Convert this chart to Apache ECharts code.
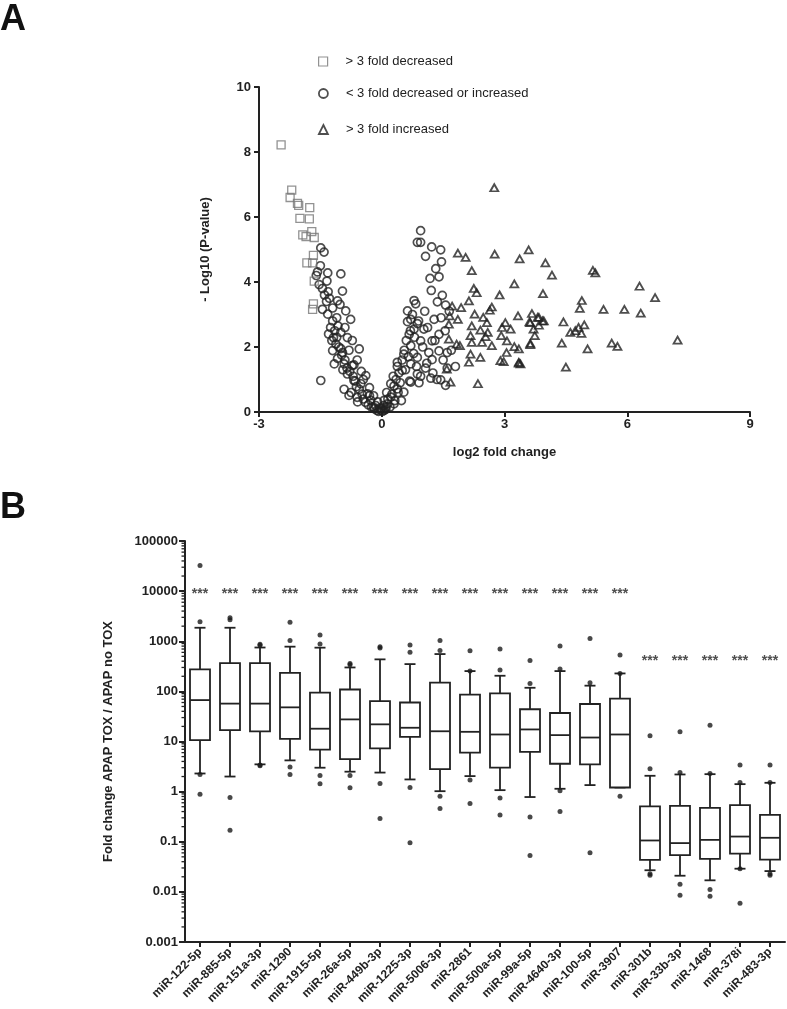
<!DOCTYPE html>
<html><head><meta charset="utf-8">
<script src="https://cdn.jsdelivr.net/npm/echarts@6/dist/echarts.min.js"></script>
<style>html,body{margin:0;padding:0;background:#fff}#c{width:787px;height:1009px}</style>
</head><body><div id="c"></div>
<script>
// ---------- Panel A data (log2 fold change, -log10 p) ----------
const decreased = [[-2.46,8.22],[-2.2,6.83],[-2.24,6.6],[-2.06,6.42],[-2.03,6.36],[-1.76,6.29],[-2.0,5.96],[-1.77,5.94],[-1.93,5.45],[-1.85,5.4],[-1.71,5.55],[-1.65,5.37],[-1.67,4.82],[-1.83,4.59],[-1.69,4.59],[-1.65,4.03],[-1.67,3.33],[-1.69,3.16]];
const unchanged = [[-1.49,5.05],[-1.41,4.92],[-1.57,4.31],[-1.32,4.28],[-1.0,4.25],[-1.53,3.92],[-1.34,4.03],[-1.31,3.7],[-0.96,3.72],[-1.08,3.42],[-1.02,3.31],[-1.45,3.16],[-1.32,3.01],[-0.88,3.11],[-0.76,2.85],[-1.2,2.8],[-1.07,2.65],[-1.0,2.45],[-1.18,2.29],[-1.12,2.09],[-0.84,2.29],[-1.2,1.89],[-0.96,1.83],[-0.55,1.94],[-1.16,1.48],[-1.49,0.97],[-0.92,1.48],[-0.72,1.43],[-0.84,1.17],[-0.39,1.12],[-0.68,0.97],[-0.51,0.87],[-0.8,0.51],[-0.59,0.31],[-0.35,0.56],[-0.27,0.36],[-0.15,0.2],[-0.02,0.1],[0.06,0.05],[0.14,0.25],
[-1.25,2.6],[-1.15,2.5],[-1.1,2.3],[-1.22,2.2],[-1.05,2.0],[-0.98,1.75],[-1.08,1.65],[-0.9,1.6],[-0.85,1.35],[-0.78,1.25],[-0.95,1.3],[-0.7,1.1],[-0.65,0.95],[-0.62,0.78],[-0.55,0.7],[-0.48,0.55],[-0.45,0.4],[-0.4,0.3],[-0.33,0.22],[-0.25,0.15],[-0.18,0.1],[-0.12,0.05],[-0.08,0.02],[-0.05,0.12],[0.02,0.02],[0.05,0.2],[0.1,0.08],[-1.35,3.4],[-1.28,3.5],[-1.4,3.6],[-1.2,3.2],[-1.1,2.9],[-0.9,2.6],[-0.72,2.2],[-0.6,1.6],[-0.5,1.25],[-0.45,1.0],[-0.3,0.75],[-0.2,0.5],[-1.5,4.5],[-1.6,4.2],[-1.45,3.8],[-1.3,2.4],[-1.0,1.95],[-0.8,1.9],[-0.68,1.45],[-0.92,0.7],[-0.75,0.6],[-0.6,0.45],[-0.3,0.5],
[0.95,5.58],[0.87,5.22],[0.95,5.22],[1.22,5.08],[1.44,4.99],[1.07,4.79],[1.46,4.62],[1.32,4.41],[1.4,4.16],[1.18,4.11],[1.21,3.74],[1.48,3.59],[1.36,3.39],[1.56,3.29],[0.83,3.33],[0.79,3.43],[0.63,3.11],[0.71,2.85],[0.63,2.78],[0.87,2.72],[1.28,2.85],[1.03,2.55],[0.79,2.55],[1.4,2.39],[0.67,2.39],[0.95,2.19],[1.23,2.19],[0.71,2.04],[1.4,1.88],[1.15,1.83],[1.6,1.83],[0.54,1.78],[0.87,1.68],[1.23,1.61],[0.38,1.53],[0.71,1.48],[1.07,1.35],[1.6,1.35],[0.5,1.28],[0.87,1.17],[1.2,1.04],[1.44,0.99],[0.71,0.92],[0.91,0.9],[1.56,0.82],[0.22,0.87],[0.38,0.71],[0.54,0.61],[0.22,0.46],[0.06,0.36],[-0.1,0.31],[0.1,0.15],[-0.02,0.05],[0.3,0.25],[-0.2,0.15],
[0.15,0.4],[0.25,0.55],[0.3,0.8],[0.35,1.0],[0.42,1.2],[0.45,0.9],[0.5,1.6],[0.55,1.9],[0.6,2.2],[0.58,1.3],[0.65,1.7],[0.7,2.5],[0.75,3.0],[0.68,0.95],[0.78,1.8],[0.8,2.3],[0.85,1.4],[0.9,2.8],[0.95,1.1],[1.0,2.0],[1.05,3.1],[1.1,1.5],[1.12,2.6],[1.25,1.2],[1.3,2.2],[1.35,1.0],[1.5,1.6],[1.55,2.5],[0.2,0.15],[0.32,0.35],[0.4,0.6],[0.48,0.35],[0.12,0.6],[0.28,1.1],[0.38,1.4],[1.7,1.9],[1.8,1.4],[1.45,2.9],[1.65,3.1]];
const increased = [[2.75,6.9],[1.86,4.89],[2.05,4.76],[2.76,4.86],[3.59,4.99],[3.37,4.71],[4.0,4.59],[2.2,4.35],[3.24,3.94],[2.25,3.8],[2.32,3.67],[2.88,3.6],[3.94,3.64],[2.13,3.42],[2.69,3.23],[2.64,3.13],[1.94,3.21],[1.72,3.26],[2.27,3.01],[1.66,2.96],[1.64,2.7],[1.86,2.85],[2.48,2.91],[3.33,2.96],[3.67,3.03],[3.84,2.91],[3.96,2.8],[3.02,2.75],[2.57,2.75],[2.2,2.65],[3.63,2.75],[2.94,2.6],[3.15,2.55],[2.41,2.52],[3.71,2.55],[2.59,2.45],[2.17,2.35],[2.54,2.32],[2.92,2.35],[3.06,2.19],[1.64,2.24],[1.83,2.09],[1.91,2.04],[2.2,2.14],[2.45,2.14],[2.69,2.04],[3.24,2.01],[3.35,1.94],[3.63,2.11],[2.17,1.78],[2.41,1.68],[3.05,1.83],[2.13,1.53],[2.9,1.58],[2.98,1.55],[3.35,1.53],[3.39,1.48],[1.59,1.32],[1.68,0.92],[2.35,0.87],
[4.16,4.21],[5.16,4.36],[5.22,4.28],[6.3,3.87],[6.68,3.52],[4.89,3.43],[4.84,3.19],[5.42,3.16],[5.93,3.16],[6.33,3.04],[3.81,2.91],[3.93,2.8],[3.61,2.77],[4.44,2.77],[3.84,2.67],[4.95,2.68],[4.81,2.6],[4.61,2.45],[4.88,2.42],[4.73,2.5],[3.74,2.35],[4.4,2.12],[3.63,2.07],[5.03,1.94],[5.62,2.12],[5.76,2.02],[7.23,2.21],[4.5,1.38],[3.35,1.5]];
const legendNames = ['> 3 fold decreased', '< 3 fold decreased or increased', '> 3 fold increased'];

// ---------- Panel B data ----------
const categories = ['miR-122-5p','miR-885-5p','miR-151a-3p','miR-1290','miR-1915-5p','miR-26a-5p','miR-449b-3p','miR-1225-3p','miR-5006-3p','miR-2861','miR-500a-5p','miR-99a-5p','miR-4640-3p','miR-100-5p','miR-3907','miR-301b','miR-33b-3p','miR-1468','miR-378i','miR-483-3p'];
const whiskerLow  = [2.3, 2.0, 3.5, 4.2, 3.0, 2.5, 2.4, 1.75, 1.02, 2.04, 1.07, 0.78, 1.14, 1.35, 1.21, 0.027, 0.021, 0.017, 0.029, 0.026];
const q1          = [10.7, 16.8, 15.9, 11.3, 6.9, 4.45, 7.3, 12.4, 2.8, 6.0, 3.0, 6.2, 3.6, 3.5, 1.21, 0.0435, 0.054, 0.0456, 0.058, 0.044];
const median      = [67, 57, 57, 48, 18, 27.6, 22, 18.8, 16, 15.6, 13.8, 17.4, 13.4, 12, 13.8, 0.106, 0.094, 0.109, 0.127, 0.12];
const q3          = [275, 365, 365, 235, 94, 109, 64, 60, 149, 86, 91, 44, 37, 56, 72, 0.51, 0.52, 0.475, 0.54, 0.344];
const whiskerHigh = [1860, 1860, 750, 780, 745, 300, 435, 350, 555, 254, 205, 118, 254, 130, 228, 2.07, 2.2, 2.23, 1.41, 1.5];
const outliers = [[0,32600],[0,2450],[0,2.2],[0,0.89],[1,2700],[1,2950],[1,0.76],[1,0.17],[2,870],[2,830],[2,3.4],[2,3.3],
 [3,2380],[3,1040],[3,3.1],[3,2.2],[4,1330],[4,880],[4,2.1],[4,1.43],[5,340],[5,360],[5,2.1],[5,1.19],
 [6,730],[6,780],[6,1.46],[6,0.29],[7,840],[7,600],[7,1.21],[7,0.095],[8,1040],[8,656],[8,0.81],[8,0.46],
 [9,646],[9,254],[9,1.7],[9,0.58],[10,698],[10,266],[10,0.75],[10,0.34],[11,415],[11,144],[11,0.31],[11,0.053],
 [12,800],[12,279],[12,1.04],[12,0.40],[13,1140],[13,149],[13,0.06],[14,530],[14,228],[14,0.81],
 [15,13],[15,2.85],[15,0.0215],[15,0.023],[16,15.6],[16,2.4],[16,0.0142],[16,0.0086],[17,21],[17,2.3],[17,0.0111],[17,0.0082],
 [18,3.4],[18,1.52],[18,0.029],[18,0.0059],[19,3.4],[19,1.52],[19,0.0215],[19,0.023]];
const sigLevel = [10000,10000,10000,10000,10000,10000,10000,10000,10000,10000,10000,10000,10000,10000,10000,470,470,470,470,470];
const sigText = '***';
const logTickLabels = ['0.001','0.01','0.1','1','10','100','1000','10000','100000'];

// ---------- build ----------
const FONT = 'Liberation Sans, Arial, Helvetica, sans-serif';
const boxData = categories.map((c, i) => [i, whiskerLow[i], q1[i], median[i], q3[i], whiskerHigh[i]]);
const sigData = categories.map((c, i) => [i, sigLevel[i]]);
const minorTicks = [];
for (let e = -3; e < 5; e++) for (let m = 2; m <= 9; m++) minorTicks.push([0, m * Math.pow(10, e)]);

const chart = echarts.init(document.getElementById('c'), null, {renderer: 'canvas'});
const axisLine = {show: true, onZero: false, lineStyle: {color: '#222', width: 2}};
const axisTick = {show: true, length: 5, lineStyle: {color: '#222', width: 2}};
const tickLabel = {color: '#222', fontFamily: FONT, fontWeight: 'bold', fontSize: 13};

function renderBox(params, api) {
  const i = api.value(0);
  const lo = api.coord([i, api.value(1)]);
  const a = api.coord([i, api.value(2)]);
  const m = api.coord([i, api.value(3)]);
  const b = api.coord([i, api.value(4)]);
  const hi = api.coord([i, api.value(5)]);
  const x = lo[0], hw = 10, cw = 5.5;
  const st = {stroke: '#222', lineWidth: 1.8, fill: null};
  return {type: 'group', children: [
    {type: 'line', shape: {x1: x, y1: b[1], x2: x, y2: hi[1]}, style: st},
    {type: 'line', shape: {x1: x, y1: a[1], x2: x, y2: lo[1]}, style: st},
    {type: 'line', shape: {x1: x - cw, y1: hi[1], x2: x + cw, y2: hi[1]}, style: st},
    {type: 'line', shape: {x1: x - cw, y1: lo[1], x2: x + cw, y2: lo[1]}, style: st},
    {type: 'rect', shape: {x: x - hw, y: b[1], width: 2 * hw, height: a[1] - b[1]}, style: {stroke: '#222', lineWidth: 1.8, fill: '#fff'}},
    {type: 'line', shape: {x1: x - hw, y1: m[1], x2: x + hw, y2: m[1]}, style: st}
  ]};
}
function renderMinor(params, api) {
  const p = api.coord([0, api.value(1)]);
  const x0 = params.coordSys.x;
  return {type: 'line', shape: {x1: x0 - 3.5, y1: p[1], x2: x0, y2: p[1]}, style: {stroke: '#222', lineWidth: 1.3}};
}

const legendBase = {orient: 'vertical', itemWidth: 9, itemHeight: 9, left: 313,
  textStyle: {fontFamily: FONT, fontSize: 13, color: '#222', padding: [0, 0, 0, 13]}, selectedMode: false};

const option = {
  animation: false,
  backgroundColor: '#fff',
  graphic: [
    {type: 'text', left: 0, top: 2, style: {text: 'A', font: 'bold 36px ' + FONT, fill: '#111'}},
    {type: 'text', left: 0, top: 490, style: {text: 'B', font: 'bold 36px ' + FONT, fill: '#111'}}
  ],
  legend: [
    Object.assign({}, legendBase, {top: 50, data: [{name: legendNames[0], icon: 'rect', itemStyle: {color: '#fff', borderColor: '#777', borderWidth: 1.2}}]}),
    Object.assign({}, legendBase, {top: 82, data: [{name: legendNames[1], icon: 'circle', itemStyle: {color: '#fff', borderColor: '#222', borderWidth: 1.8}}]}),
    Object.assign({}, legendBase, {top: 118, data: [{name: legendNames[2], icon: 'triangle', itemStyle: {color: '#fff', borderColor: '#222', borderWidth: 1.8}}]})
  ],
  grid: [
    {left: 259, top: 87, width: 491, height: 325},
    {left: 185, top: 541, width: 600, height: 401}
  ],
  xAxis: [
    {gridIndex: 0, type: 'value', min: -3, max: 9, interval: 3, axisLine, axisTick, splitLine: {show: false},
     axisLabel: Object.assign({margin: 6}, tickLabel),
     name: 'log2 fold change', nameLocation: 'middle', nameGap: 34,
     nameTextStyle: {fontFamily: FONT, fontWeight: 'bold', fontSize: 13, color: '#222'}},
    {gridIndex: 1, type: 'category', data: categories, boundaryGap: true, axisLine,
     axisTick: {show: true, alignWithLabel: true, length: 5, lineStyle: {color: '#222', width: 2}},
     axisLabel: Object.assign({rotate: 45, margin: 8, interval: 0}, tickLabel, {fontSize: 12}), splitLine: {show: false}}
  ],
  yAxis: [
    {gridIndex: 0, type: 'value', min: 0, max: 10, interval: 2, axisLine, axisTick, splitLine: {show: false},
     axisLabel: Object.assign({margin: 8}, tickLabel),
     name: '- Log10 (P-value)', nameLocation: 'middle', nameGap: 47,
     nameTextStyle: {fontFamily: FONT, fontWeight: 'bold', fontSize: 13, color: '#222'}},
    {gridIndex: 1, type: 'log', logBase: 10, min: 0.001, max: 100000, axisLine,
     axisTick: {show: true, length: 6, lineStyle: {color: '#222', width: 2}}, splitLine: {show: false},
     axisLabel: Object.assign({margin: 7, formatter: v => logTickLabels[Math.round(Math.log10(v)) + 3]}, tickLabel),
     name: 'Fold change APAP TOX / APAP no TOX', nameLocation: 'middle', nameGap: 70,
     nameTextStyle: {fontFamily: FONT, fontWeight: 'bold', fontSize: 13, color: '#222'}}
  ],
  series: [
    {name: legendNames[0], type: 'scatter', xAxisIndex: 0, yAxisIndex: 0, data: decreased, symbol: 'rect', symbolSize: 8,
     itemStyle: {color: 'rgba(255,255,255,0)', borderColor: '#777', borderWidth: 1.3}, z: 3},
    {name: legendNames[1], type: 'scatter', xAxisIndex: 0, yAxisIndex: 0, data: unchanged, symbol: 'circle', symbolSize: 8,
     itemStyle: {color: 'rgba(255,255,255,0)', borderColor: '#222', borderWidth: 1.7}, z: 2},
    {name: legendNames[2], type: 'scatter', xAxisIndex: 0, yAxisIndex: 0, data: increased, symbol: 'triangle', symbolSize: [8, 7],
     itemStyle: {color: 'rgba(255,255,255,0)', borderColor: '#222', borderWidth: 1.8}, z: 2},
    {name: 'minor', type: 'custom', xAxisIndex: 1, yAxisIndex: 1, data: minorTicks, renderItem: renderMinor, silent: true, z: 5},
    {name: 'box', type: 'custom', xAxisIndex: 1, yAxisIndex: 1, data: boxData, renderItem: renderBox,
     encode: {x: 0, y: [1, 2, 3, 4, 5]}, z: 2},
    {name: 'outliers', type: 'scatter', xAxisIndex: 1, yAxisIndex: 1, data: outliers, symbol: 'circle', symbolSize: 5,
     itemStyle: {color: '#1a1a1a'}, z: 4},
    {name: 'sig', type: 'scatter', xAxisIndex: 1, yAxisIndex: 1, data: sigData, symbolSize: 1,
     itemStyle: {color: 'rgba(0,0,0,0)'},
     label: {show: true, position: 'inside', formatter: sigText, offset: [0, 3], fontFamily: FONT, fontWeight: 'bold', fontSize: 14, color: '#222'}, z: 4}
  ]
};
chart.setOption(option);
</script>
</body></html>
